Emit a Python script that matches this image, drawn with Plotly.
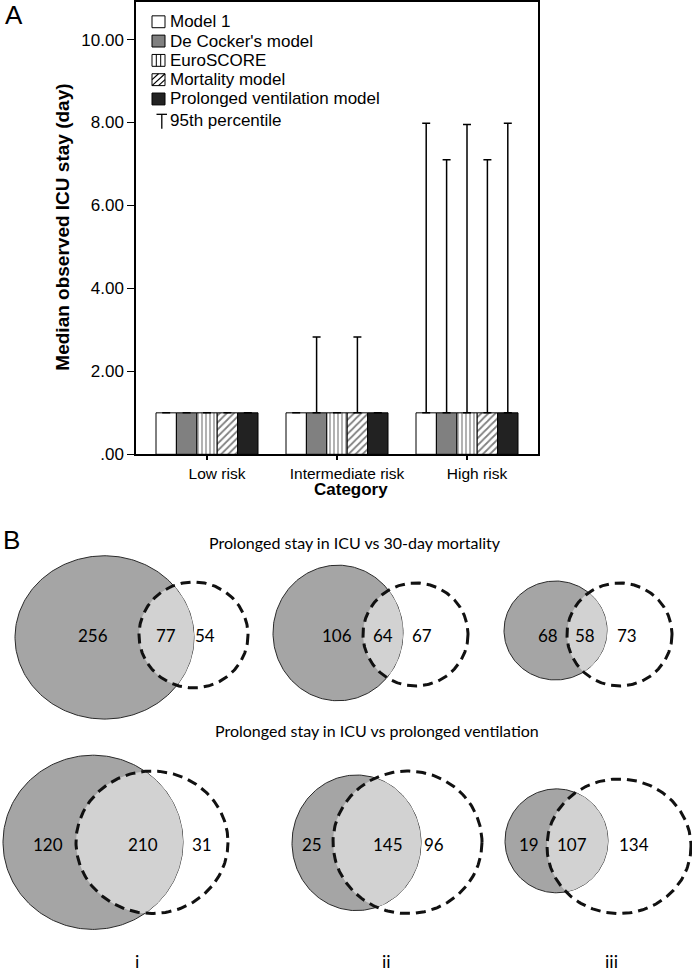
import numpy as np
import plotly.graph_objects as go

# ---------------- Panel A data ----------------
categories = ["Low risk", "Intermediate risk", "High risk"]
model_names = ["Model 1", "De Cocker's model", "EuroSCORE", "Mortality model", "Prolonged ventilation model"]
median_model1 = [1.0, 1.0, 1.0]
median_decocker = [1.0, 1.0, 1.0]
median_euroscore = [1.0, 1.0, 1.0]
median_mortality = [1.0, 1.0, 1.0]
median_prolonged = [1.0, 1.0, 1.0]
p95_model1 = [None, None, 7.98]
p95_decocker = [None, 2.83, 7.10]
p95_euroscore = [None, None, 7.95]
p95_mortality = [None, 2.83, 7.10]
p95_prolonged = [None, None, 7.98]
y_tick_values = [0, 2, 4, 6, 8, 10]
y_tick_labels = [".00", "2.00", "4.00", "6.00", "8.00", "10.00"]
errorbar_label = "95th percentile"
y_title = "Median observed ICU stay (day)"
x_title = "Category"

# ---------------- Panel B data ----------------
cohort_labels = ["i", "ii", "iii"]
mort_title = "Prolonged stay in ICU vs 30-day mortality"
vent_title = "Prolonged stay in ICU vs prolonged ventilation"
mort_icu_only = [256, 106, 68]
mort_both = [77, 64, 58]
mort_death_only = [54, 67, 73]
vent_icu_only = [120, 25, 19]
vent_both = [210, 145, 107]
vent_vent_only = [31, 96, 134]

# ---------------- layout constants (pixels) ----------------
W, H = 692, 979
AX_L, AX_R, AX_T, AX_B = 136, 538, 2, 459
ARIAL = "Liberation Sans, Arial, sans-serif"
HUMAN = "Lato, 'Open Sans', sans-serif"

fig = go.Figure()

medians = [median_model1, median_decocker, median_euroscore, median_mortality, median_prolonged]
p95s = [p95_model1, p95_decocker, p95_euroscore, p95_mortality, p95_prolonged]
bar_styles = [
    dict(color="white"),
    dict(color="#808080"),
    dict(color="white", pattern=dict(shape="|", size=4, solidity=0.3, fgcolor="black", bgcolor="white")),
    dict(color="white", pattern=dict(shape="/", size=5, solidity=0.35, fgcolor="black", bgcolor="white")),
    dict(color="#222222"),
]
for name, med, p95, st in zip(model_names, medians, p95s, bar_styles):
    err = [(p - m) if p is not None else 0 for p, m in zip(p95, med)]
    fig.add_trace(go.Bar(
        x=categories, y=med, name=name,
        marker=dict(line=dict(color="black", width=1), **st),
        error_y=dict(type="data", array=err, arrayminus=[0] * len(err), symmetric=False,
                     color="black", thickness=1.5, width=4),
        xaxis="x", yaxis="y", showlegend=False, hoverinfo="skip",
    ))

# ---------------- Venn diagrams on a pixel overlay axis ----------------
def ell(cx, cy, rx, ry, n=240):
    t = np.linspace(0, 2 * np.pi, n)
    return cx + rx * np.cos(t), cy + ry * np.sin(t)

def inside(x, y, e):
    cx, cy, rx, ry = e
    return ((x - cx) / rx) ** 2 + ((y - cy) / ry) ** 2 <= 1.0

venn_geom_top = [
    ((104.5, 644.0, 89.5, 82.5), (193.5, 641.5, 54.5, 53.5)),
    ((338.0, 639.5, 65.0, 68.5), (415.5, 641.0, 52.5, 52.0)),
    ((555.5, 637.0, 51.5, 50.0), (619.5, 641.0, 52.5, 52.0)),
]
venn_geom_bot = [
    ((93.0, 851.0, 90.0, 88.0), (152.0, 851.0, 76.0, 72.0)),
    ((356.5, 851.5, 64.5, 68.5), (407.5, 851.0, 74.5, 72.0)),
    ((556.5, 849.5, 51.5, 52.5), (619.0, 855.0, 72.0, 68.0)),
]

for g, d in venn_geom_top + venn_geom_bot:
    gx, gy = ell(*g)
    dx, dy = ell(*d)
    fig.add_trace(go.Scatter(x=gx, y=gy, mode="lines", fill="toself", fillcolor="#a5a5a5",
                             line=dict(color="#2a2a2a", width=1), xaxis="x2", yaxis="y2",
                             showlegend=False, hoverinfo="skip"))
    mg = inside(gx, gy, d)
    md = inside(dx, dy, g)
    lx = np.concatenate([gx[mg], dx[md]])
    ly = np.concatenate([gy[mg], dy[md]])
    ang = np.arctan2(ly - ly.mean(), lx - lx.mean())
    o = np.argsort(ang)
    lx, ly = np.append(lx[o], lx[o][0]), np.append(ly[o], ly[o][0])
    fig.add_trace(go.Scatter(x=lx, y=ly, mode="lines", fill="toself", fillcolor="#d2d2d2",
                             line=dict(color="rgba(0,0,0,0)", width=0), xaxis="x2", yaxis="y2",
                             showlegend=False, hoverinfo="skip"))
    fig.add_trace(go.Scatter(x=dx, y=dy, mode="lines",
                             line=dict(color="#111111", width=3, dash="10px,6px"), xaxis="x2", yaxis="y2",
                             showlegend=False, hoverinfo="skip"))

annotations = []

def txt(x, y, s, size, family=ARIAL, xanchor="center", weight="normal", angle=0):
    annotations.append(dict(x=x, y=y, xref="x2", yref="y2", text=s, showarrow=False,
                            xanchor=xanchor, yanchor="middle", textangle=angle, borderpad=0,
                            font=dict(size=size, family=family, color="black", weight=weight)))

# Venn numbers
top_lab_x = [(93, 166, 205), (337, 383, 422), (548, 585, 627)]
bot_lab_x = [(48, 143, 202), (312, 388, 434), (529, 572, 634)]
for i in range(3):
    for xx, v in zip(top_lab_x[i], (mort_icu_only[i], mort_both[i], mort_death_only[i])):
        txt(xx, 642, str(v), 17, HUMAN)
    for xx, v in zip(bot_lab_x[i], (vent_icu_only[i], vent_both[i], vent_vent_only[i])):
        txt(xx, 853, str(v), 17, HUMAN)
for xx, lab in zip((137, 386, 611), cohort_labels):
    txt(xx, 971, lab, 18, HUMAN)
txt(355, 548, mort_title, 16, HUMAN)
txt(377, 738, vent_title, 16, HUMAN)

# panel letters and axis titles
txt(14, 15, "A", 26)
txt(11, 546, "B", 26)
txt(63, 230, y_title, 19, weight="bold", angle=-90)
txt(351, 495, x_title, 17, weight="bold")

# manual legend
shapes = []
rows_y = [22, 41.5, 61, 80.5, 100]
sx0, sx1, hh = 152, 165, 6
fills = ["white", "#808080", "white", "white", "#222222"]
for k, (yy, nm, fc) in enumerate(zip(rows_y, model_names, fills)):
    shapes.append(dict(type="rect", xref="x2", yref="y2", x0=sx0, x1=sx1, y0=yy - hh, y1=yy + hh,
                       fillcolor=fc, line=dict(color="black", width=1), layer="above"))
    if k == 2:
        for lxp in (156.3, 160.7):
            shapes.append(dict(type="line", xref="x2", yref="y2", x0=lxp, x1=lxp, y0=yy - hh, y1=yy + hh,
                               line=dict(color="black", width=1), layer="above"))
    if k == 3:
        y0, y1 = yy - hh, yy + hh
        for a, b in (((sx0, y1), (sx1, y0)), ((sx0, yy), (sx0 + 6.5, y0)), ((sx0 + 6.5, y1), (sx1, yy))):
            shapes.append(dict(type="line", xref="x2", yref="y2", x0=a[0], y0=a[1], x1=b[0], y1=b[1],
                               line=dict(color="black", width=1.2), layer="above"))
    txt(169, yy, nm, 17, xanchor="left")
# T symbol for 95th percentile
shapes.append(dict(type="line", xref="x2", yref="y2", x0=156.5, x1=167, y0=115.5, y1=115.5,
                   line=dict(color="black", width=1.3), layer="above"))
shapes.append(dict(type="line", xref="x2", yref="y2", x0=161.8, x1=161.8, y0=115.5, y1=130,
                   line=dict(color="black", width=1.3), layer="above"))
txt(169, 121.5, errorbar_label, 17, xanchor="left")

half = (AX_R - AX_L) / 2 / 130.0
fig.update_layout(
    width=W, height=H, margin=dict(l=0, r=0, t=0, b=0),
    paper_bgcolor="white", plot_bgcolor="rgba(0,0,0,0)",
    barmode="group", bargap=1 - 102 / 130, bargroupgap=0,
    showlegend=False,
    xaxis=dict(domain=[AX_L / W, AX_R / W], range=[1 - half, 1 + half], anchor="y",
               showline=True, linecolor="black", linewidth=2, mirror=True,
               ticks="outside", ticklen=4, tickwidth=1.5, tickcolor="black",
               tickfont=dict(size=15.5, family=ARIAL, color="black"),
               ticklabelshift=10, showgrid=False, fixedrange=True),
    yaxis=dict(domain=[1 - AX_B / H, 1 - AX_T / H], range=[0, (AX_B - AX_T) / 41.9], anchor="x",
               tickvals=y_tick_values, ticktext=y_tick_labels,
               showline=True, linecolor="black", linewidth=1.5, mirror=True,
               ticks="outside", ticklen=7, tickwidth=1.2, tickcolor="black",
               tickfont=dict(size=17, family=ARIAL, color="black"),
               showgrid=False, zeroline=False, fixedrange=True),
    xaxis2=dict(domain=[0, 1], range=[0, W], anchor="y2", visible=False, fixedrange=True),
    yaxis2=dict(domain=[0, 1], range=[H, 0], anchor="x2", visible=False, fixedrange=True),
    annotations=annotations, shapes=shapes,
)

fig.write_html("out.html", config={"displayModeBar": False},
               post_script="document.body.style.margin='0px';")
